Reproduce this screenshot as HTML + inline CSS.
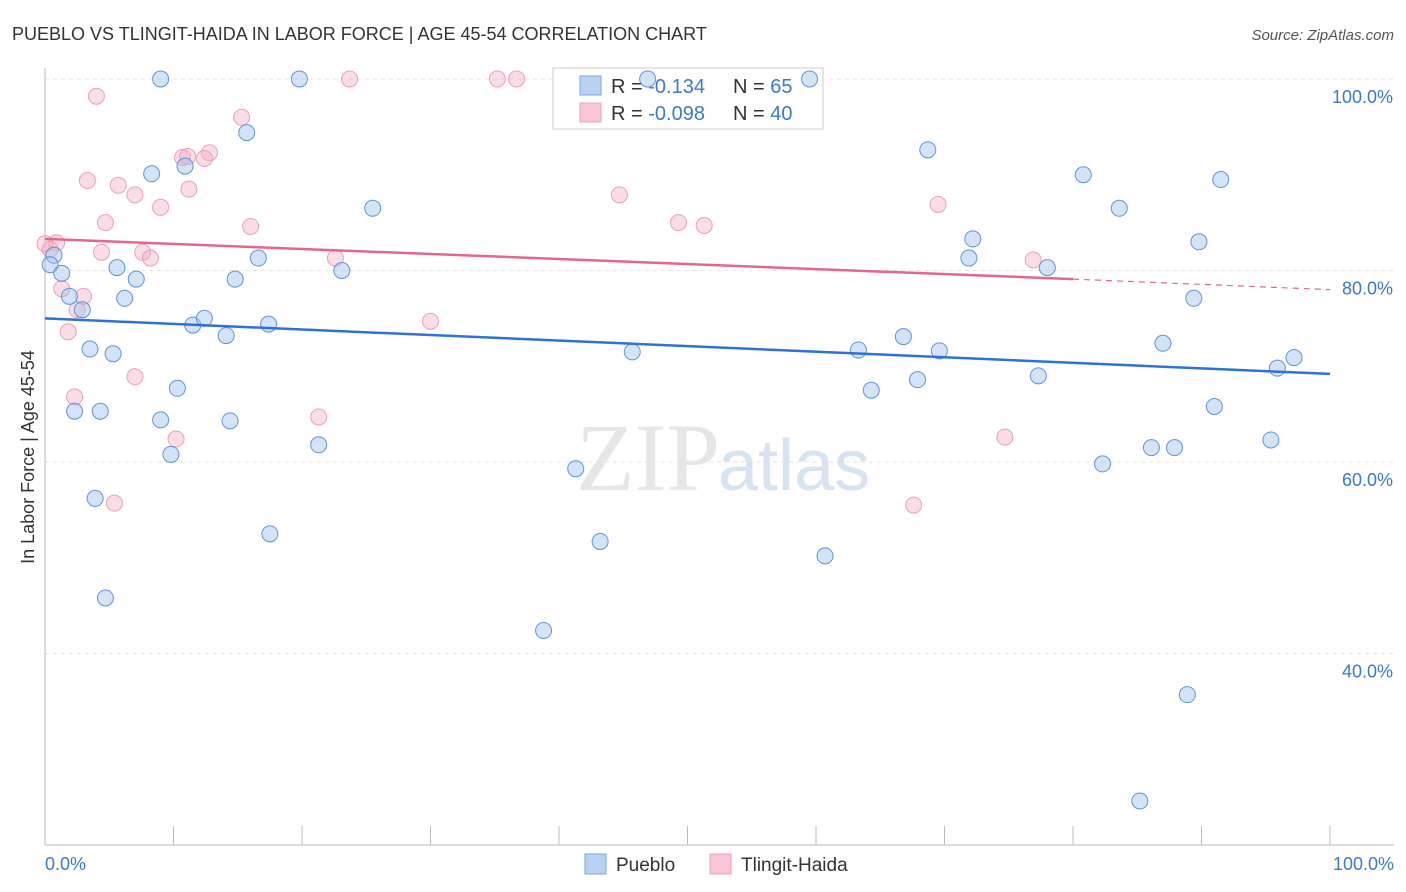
<!DOCTYPE html>
<html><head><meta charset="utf-8"><style>
body{margin:0;background:#fff;font-family:"Liberation Sans",sans-serif}
svg{display:block}
</style></head><body>
<svg id="c" width="1406" height="892" xmlns="http://www.w3.org/2000/svg">
<text x="12" y="40" font-size="18" fill="#333">PUEBLO VS TLINGIT-HAIDA IN LABOR FORCE | AGE 45-54 CORRELATION CHART</text>
<text x="1394" y="40" font-size="15" fill="#555" font-style="italic" text-anchor="end">Source: ZipAtlas.com</text>
<text x="720" y="490" font-size="96" fill="#e6e6e6" text-anchor="end" font-family="Liberation Serif">ZIP</text>
<text x="718" y="490" font-size="72" fill="#d6e3f3">atlas</text>
<g id="grid"></g>
<g id="axes"></g>
<g>
<rect x="553" y="68" width="270" height="61" fill="#fff" stroke="#ccc"/>
<rect x="580" y="76" width="21" height="19" fill="#b8d2f4" stroke="#7aa6e0"/>
<rect x="580" y="103" width="21" height="19" fill="#f9c6d6" stroke="#eea0bc"/>
<text x="611" y="93" font-size="20" fill="#333">R = <tspan fill="#3b78d0">-0.134</tspan><tspan x="733">N = </tspan><tspan fill="#3b78d0">65</tspan></text>
<text x="611" y="120" font-size="20" fill="#333">R = <tspan fill="#3b78d0">-0.098</tspan><tspan x="733">N = </tspan><tspan fill="#3b78d0">40</tspan></text>
</g>
<g id="pts"></g>
<g id="trend"></g>
<text transform="translate(34,457) rotate(-90)" font-size="18" fill="#333" text-anchor="middle">In Labor Force | Age 45-54</text>
<text x="45" y="870" font-size="18" fill="#3b78d0">0.0%</text>
<text x="1394" y="870" font-size="18" fill="#3b78d0" text-anchor="end">100.0%</text>
<g>
<rect x="585" y="854" width="21" height="20" fill="#b8d2f4" stroke="#7aa6e0"/>
<text x="616" y="871" font-size="19" fill="#333">Pueblo</text>
<rect x="710" y="854" width="21" height="20" fill="#f9c6d6" stroke="#eea0bc"/>
<text x="741" y="871" font-size="19" fill="#333">Tlingit-Haida</text>
</g>
</svg>
<script>
const yTicks=[100,80,60,40];
const yTickLabels=["100.0%","80.0%","60.0%","40.0%"];
const xTicks=[0,10,20,30,40,50,60,70,80,90,100];
const puebloX=[9.0,19.8,46.9,59.5,15.7,8.3,10.9,25.5,68.7,80.8,83.6,91.5,0.7,0.4,1.3,5.6,7.1,16.6,23.1,14.8,72.2,71.9,78.0,89.8,1.9,2.9,6.2,89.4,11.5,12.4,14.1,17.4,3.5,5.3,45.7,63.3,66.8,69.6,87.0,97.2,95.9,10.3,2.3,4.3,9.0,14.4,64.3,67.9,77.3,91.0,9.8,21.3,41.3,82.3,86.1,87.9,95.4,3.9,17.5,43.2,60.7,4.7,38.8,88.9,85.2];
const puebloY=[100,100,100,100,94.4,90.1,90.9,86.5,92.6,90.0,86.5,89.5,81.6,80.6,79.7,80.3,79.1,81.3,80.0,79.1,83.3,81.3,80.3,83.0,77.3,75.9,77.1,77.1,74.3,75.0,73.2,74.4,71.8,71.3,71.5,71.7,73.1,71.6,72.4,70.9,69.8,67.7,65.3,65.3,64.4,64.3,67.5,68.6,69.0,65.8,60.8,61.8,59.3,59.8,61.5,61.5,62.3,56.2,52.5,51.7,50.2,45.8,42.4,35.7,24.6];
const tlingitX=[4.0,23.7,35.2,36.7,15.3,12.8,10.7,11.1,12.4,3.3,5.7,7.0,11.2,9.0,44.7,69.5,4.7,16.0,49.3,51.3,0.9,0.4,4.4,7.6,8.2,22.6,76.9,1.3,3.0,2.5,1.8,30.0,7.0,2.3,21.3,10.2,74.7,5.4,67.6,0];
const tlingitY=[98.2,100,100,100,96.0,92.3,91.8,91.9,91.7,89.4,88.9,87.9,88.5,86.6,87.9,86.9,85.0,84.6,85.0,84.7,82.9,82.2,81.9,81.9,81.3,81.3,81.1,78.1,77.3,75.9,73.6,74.7,68.9,66.8,64.7,62.4,62.6,55.7,55.5,82.8];
const blueTrend=[[0,75.0],[100,69.2]];
const pinkTrend=[[0,83.3],[80,79.1],[100,78.0]];
const X0=45,X1=1330,Y100=79,PY=9.575;
const xs=v=>X0+(X1-X0)*v/100, ys=v=>Y100+(100-v)*PY;
const NS="http://www.w3.org/2000/svg";
function mk(tag,attrs,parent){const e=document.createElementNS(NS,tag);for(const k in attrs)e.setAttribute(k,attrs[k]);parent.appendChild(e);return e;}
const grid=document.getElementById('grid'),axes=document.getElementById('axes'),pts=document.getElementById('pts'),tr=document.getElementById('trend');
yTicks.forEach((t,i)=>{
 const l=mk('line',{x1:45,x2:1394,y1:ys(t),y2:ys(t),stroke:'#e2e2e2','stroke-dasharray':'4,4'},grid);
 
 
 const tx=mk('text',{x:1393,y:ys(t)+24,'font-size':18,fill:'#3b78d0','text-anchor':'end'},grid);
 tx.textContent=yTickLabels[i];
 
 
});
const ya=mk('line',{x1:45,x2:45,y1:68,y2:845,stroke:'#bbb'},axes);


const xa=mk('line',{x1:45,x2:1394,y1:845,y2:845,stroke:'#bbb'},axes);


xTicks.forEach(t=>{
 const l=mk('line',{x1:xs(t),x2:xs(t),y1:826,y2:845,stroke:'#bbb'},axes);
 
 
});
tlingitX.forEach((x,i)=>{
 const c=mk('circle',{cx:xs(x),cy:ys(tlingitY[i]),r:8,fill:'rgba(245,170,196,0.4)',stroke:'#eaa0ba','stroke-width':1},pts);
 
 
});
puebloX.forEach((x,i)=>{
 const c=mk('circle',{cx:xs(x),cy:ys(puebloY[i]),r:8,fill:'rgba(160,196,240,0.45)',stroke:'#5f93d8','stroke-width':1},pts);
 
 
});
const bl=mk('line',{x1:xs(blueTrend[0][0]),y1:ys(blueTrend[0][1]),x2:xs(blueTrend[1][0]),y2:ys(blueTrend[1][1]),stroke:'#2f72d6','stroke-width':2.5},tr);


const pl=mk('line',{x1:xs(pinkTrend[0][0]),y1:ys(pinkTrend[0][1]),x2:xs(pinkTrend[1][0]),y2:ys(pinkTrend[1][1]),stroke:'#e4668f','stroke-width':2.5},tr);


const pd=mk('line',{x1:xs(pinkTrend[1][0]),y1:ys(pinkTrend[1][1]),x2:xs(pinkTrend[2][0]),y2:ys(pinkTrend[2][1]),stroke:'#e4668f','stroke-width':1.2,'stroke-dasharray':'6,5'},tr);


</script>
</body></html>
